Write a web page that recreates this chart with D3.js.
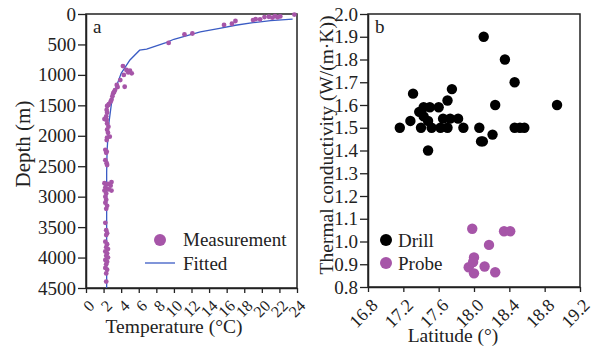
<!DOCTYPE html>
<html lang="en">
<head>
<meta charset="UTF-8">
<title>Temperature and conductivity</title>
<script src="https://cdn.jsdelivr.net/npm/d3@7"></script>
<style>
	body { margin: 0; background: #fff; }
	text { font-family: "Liberation Serif", "DejaVu Serif", serif; fill: #222; }
	.frame { fill: none; stroke: #222; stroke-width: 1.5px; }
	.axis path { stroke: #222; stroke-width: 1.5px; }
	.axis line { stroke: #222; stroke-width: 1.3px; }
</style>
</head>
<body>
<script>
// panel a: measured temperatures vs depth
var measTemp = [23.7, 22.1, 21.8, 21.5, 21.2, 20.8, 20.3, 19.8, 19.3, 19.0, 17.0, 16.6, 15.7, 12.1, 11.2, 9.4,
	4.2, 4.6, 5.0, 5.2, 4.8, 4.3, 3.9, 4.4, 3.5, 3.6, 3.3, 3.2, 3.1, 3.0, 2.9, 2.8, 2.6, 2.4, 2.55, 2.35,
	2.4, 2.3, 2.1, 2.35, 2.4, 2.55, 2.4, 2.5, 2.7, 2.35, 2.4, 2.2, 2.35, 2.3, 2.2, 2.35, 2.4,
	2.1, 2.3, 2.5, 2.9, 2.8, 2.2, 2.4, 2.9, 2.6, 2.1, 2.3, 2.2, 2.3, 2.2, 2.4, 2.3, 2.2, 2.3, 2.4, 2.3,
	2.2, 2.4, 2.3, 2.5, 2.2, 2.4, 2.3, 2.5, 2.2, 2.4, 2.3, 2.2, 2.4, 2.3, 2.3];
var measDepth = [10, 40, 55, 35, 60, 45, 50, 87, 85, 100, 115, 160, 180, 320, 335, 475,
	855, 920, 930, 975, 960, 1000, 1085, 1195, 1165, 1200, 1250, 1280, 1300, 1350, 1410, 1440, 1480, 1510, 1495, 1575,
	1620, 1680, 1725, 1740, 1800, 1850, 1900, 1950, 2015, 2070, 2030, 2230, 2260, 2280, 2400, 2450, 2480,
	2780, 2800, 2790, 2760, 2820, 2850, 2880, 2900, 2880, 2900, 2950, 3000, 3050, 3100, 3150, 3200, 3430, 3550, 3600, 3630,
	3740, 3780, 3830, 3860, 3900, 3930, 3970, 4000, 4040, 4070, 4110, 4170, 4200, 4260, 4395];

// fitted curve
var fitTemp = [23.5, 21, 19, 17, 15.2, 13, 11.4, 10, 9.1, 8, 6.9, 6.1, 5.0, 4.0, 3.3, 2.9, 2.6, 2.4, 2.35, 2.35];
var fitDepth = [85, 110, 142, 185, 235, 295, 360, 415, 470, 525, 578, 595, 755, 975, 1250, 1465, 1795, 2235, 2600, 4500];

// panel b: thermal conductivity vs latitude
var drillLat = [17.16, 17.28, 17.31, 17.38, 17.40, 17.43, 17.50, 17.60, 17.43, 17.48, 17.52, 17.62, 17.65, 17.70, 17.73, 17.70,
	17.75, 17.82, 17.88, 18.06, 18.08, 18.10, 18.11, 18.21, 18.24, 18.35, 18.46, 18.46, 18.52, 18.57, 18.94, 17.48];
var drillK = [1.50, 1.53, 1.65, 1.57, 1.50, 1.59, 1.59, 1.59, 1.55, 1.53, 1.50, 1.50, 1.54, 1.50, 1.54, 1.62,
	1.67, 1.54, 1.50, 1.50, 1.44, 1.44, 1.90, 1.47, 1.60, 1.80, 1.70, 1.50, 1.50, 1.50, 1.60, 1.40];
var probeLat = [17.98, 18.34, 18.41, 18.17, 18.00, 17.94, 18.00, 18.12, 18.24, 17.99];
var probeK = [1.056, 1.045, 1.045, 0.985, 0.93, 0.887, 0.86, 0.89, 0.865, 0.91];

var tempTicks = d3.range(0, 25, 2);
var depthTicks = d3.range(0, 4501, 500);
var latTicks = [16.8, 17.2, 17.6, 18.0, 18.4, 18.8, 19.2];
var kTicks = d3.range(8, 21).map(function (d) { return d / 10; });

var purple = "#a655a8";
var blue = "#3b5cc4";

var svg = d3.select("body").append("svg")
	.attr("width", 598)
	.attr("height", 353);

// ---- panel a
var xa = d3.scaleLinear().domain([0, 24]).range([86, 297]);
var ya = d3.scaleLinear().domain([0, 4500]).range([14, 288]);

var gA = svg.append("g");

gA.append("g").attr("class", "axis")
	.attr("transform", "translate(86,0)")
	.call(d3.axisLeft(ya).tickValues(depthTicks).tickFormat(d3.format("d")).tickSize(8).tickSizeOuter(0).tickPadding(2))
	.selectAll("text").style("font-size", "19px").attr("fill", "#222");

var axA = gA.append("g").attr("class", "axis")
	.attr("transform", "translate(0,288)")
	.call(d3.axisBottom(xa).tickValues(tempTicks).tickSize(5).tickSizeOuter(0));
axA.selectAll("text")
	.style("font-size", "16px")
	.attr("text-anchor", "end")
	.attr("dy", "0.35em")
	.attr("transform", "translate(5,15) rotate(-45)")
	.attr("y", 0);

gA.append("rect").attr("class", "frame")
	.attr("x", 86).attr("y", 14).attr("width", 211).attr("height", 274);

var fitLine = d3.line()
	.x(function (d) { return xa(d[0]); })
	.y(function (d) { return ya(d[1]); });

gA.append("path")
	.datum(d3.zip(fitTemp, fitDepth))
	.attr("d", fitLine)
	.attr("fill", "none")
	.attr("stroke", blue)
	.attr("stroke-width", 1.3);

gA.selectAll(".meas")
	.data(d3.zip(measTemp, measDepth))
	.enter().append("circle")
	.attr("class", "meas")
	.attr("cx", function (d) { return xa(d[0]); })
	.attr("cy", function (d) { return ya(d[1]); })
	.attr("r", 2.4)
	.attr("fill", purple);

gA.append("text").attr("x", 93).attr("y", 33).style("font-size", "19px").text("a");

// legend a
gA.append("circle").attr("cx", 160).attr("cy", 240).attr("r", 6).attr("fill", purple);
gA.append("text").attr("x", 183).attr("y", 246).style("font-size", "19px").text("Measurement");
gA.append("line").attr("x1", 145).attr("x2", 175).attr("y1", 263).attr("y2", 263)
	.attr("stroke", blue).attr("stroke-width", 1.3);
gA.append("text").attr("x", 183).attr("y", 270).style("font-size", "19px").text("Fitted");

gA.append("text")
	.attr("x", 174).attr("y", 333)
	.attr("text-anchor", "middle")
	.style("font-size", "19.5px")
	.text("Temperature (°C)");

gA.append("text")
	.attr("transform", "translate(30,144) rotate(-90)")
	.attr("text-anchor", "middle")
	.style("font-size", "21px")
	.text("Depth (m)");

// ---- panel b
var xb = d3.scaleLinear().domain([16.8, 19.2]).range([368, 580]);
var yb = d3.scaleLinear().domain([0.8, 2.0]).range([287, 14]);

var gB = svg.append("g");

gB.append("g").attr("class", "axis")
	.attr("transform", "translate(368,0)")
	.call(d3.axisLeft(yb).tickValues(kTicks).tickFormat(d3.format(".1f")).tickSize(8).tickSizeOuter(0).tickPadding(2))
	.selectAll("text").style("font-size", "19px").attr("fill", "#222");

var axB = gB.append("g").attr("class", "axis")
	.attr("transform", "translate(0,287)")
	.call(d3.axisBottom(xb).tickValues(latTicks).tickFormat(d3.format(".1f")).tickSize(5).tickSizeOuter(0));
axB.selectAll("text")
	.style("font-size", "18px")
	.attr("text-anchor", "end")
	.attr("dy", "0.35em")
	.attr("transform", "translate(6,15) rotate(-45)")
	.attr("y", 0);

gB.append("rect").attr("class", "frame")
	.attr("x", 368).attr("y", 14).attr("width", 212).attr("height", 273);

gB.selectAll(".drill")
	.data(d3.zip(drillLat, drillK))
	.enter().append("circle")
	.attr("class", "drill")
	.attr("cx", function (d) { return xb(d[0]); })
	.attr("cy", function (d) { return yb(d[1]); })
	.attr("r", 5.2)
	.attr("fill", "#000");

gB.selectAll(".probe")
	.data(d3.zip(probeLat, probeK))
	.enter().append("circle")
	.attr("class", "probe")
	.attr("cx", function (d) { return xb(d[0]); })
	.attr("cy", function (d) { return yb(d[1]); })
	.attr("r", 5.2)
	.attr("fill", purple);

gB.append("text").attr("x", 375).attr("y", 33).style("font-size", "19px").text("b");

// legend b
gB.append("circle").attr("cx", 386).attr("cy", 240).attr("r", 6).attr("fill", "#000");
gB.append("text").attr("x", 398).attr("y", 247).style("font-size", "19px").text("Drill");
gB.append("circle").attr("cx", 386).attr("cy", 263).attr("r", 6).attr("fill", purple);
gB.append("text").attr("x", 398).attr("y", 270).style("font-size", "19px").text("Probe");

gB.append("text")
	.attr("x", 453).attr("y", 342)
	.attr("text-anchor", "middle")
	.style("font-size", "19.5px")
	.text("Latitude (°)");

gB.append("text")
	.attr("transform", "translate(333,145) rotate(-90)")
	.attr("text-anchor", "middle")
	.style("font-size", "19.5px")
	.text("Thermal conductivity (W/(m·K))");
</script>
</body>
</html>
